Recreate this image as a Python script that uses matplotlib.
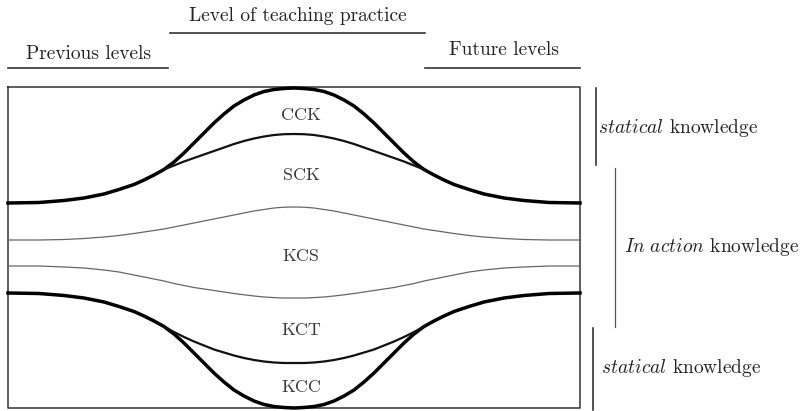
import matplotlib.pyplot as plt

plt.rcParams['font.family'] = ['cmr10', 'DejaVu Serif']
plt.rcParams['mathtext.fontset'] = 'cm'
plt.rcParams['axes.formatter.use_mathtext'] = True

# curve samples (pixel space, y grows downward)
x_pts = [8, 39, 64, 84, 104, 119, 134, 144, 154, 164, 174, 184, 194, 204, 214,
         224, 234, 244, 254, 264, 274, 284, 294, 304, 314, 324, 334, 344, 354,
         364, 374, 384, 394, 404, 414, 424, 434, 444, 454, 469, 484, 504, 524,
         549, 580]
cck_top = [203, 202.5, 200.5, 198, 194, 189.5, 184.5, 180, 175, 169.5, 162,
           153, 143, 133, 123, 114, 106, 100, 95, 91.5, 89.5, 88.5, 88,
           88.5, 89.5, 91.5, 95, 100, 106, 114, 123, 133, 143, 153, 162,
           169.5, 175, 180, 184.5, 189.5, 194, 198, 200.5, 202.5, 203]
kcs_upper = [240, 240, 239.5, 238.5, 237, 235.5, 233.5, 232, 230.5, 229, 227,
             225, 223, 221, 219, 217, 215, 213, 211, 209.5, 208, 207.2, 207,
             207.2, 208, 209.5, 211, 213, 215, 217, 219, 221, 223, 225, 227,
             229, 230.5, 232, 233.5, 235.5, 237, 238.5, 239.5, 240, 240]
kcs_lower = [266, 266, 267, 268, 270, 272, 275, 277, 279, 281, 283.5, 285.5,
             287.5, 289, 290.5, 292, 293.5, 294.8, 296, 297, 297.6, 298, 298,
             298, 297.6, 297, 296, 294.8, 293.5, 292, 290.5, 289, 287.5, 285.5,
             283.5, 281, 279, 277, 275, 272, 270, 268, 267, 266, 266]
kcc_bottom = [293, 293.5, 295.5, 298, 302, 306.5, 311.5, 316, 321, 326.5, 334,
              343, 353, 363, 373, 382, 390, 396, 401, 404.5, 406.5, 407.5, 408,
              407.5, 406.5, 404.5, 401, 396, 390, 382, 373, 363, 353, 343, 334,
              326.5, 321, 316, 311.5, 306.5, 302, 298, 295.5, 293.5, 293]

inner_x = [164, 174, 184, 194, 204, 214, 224, 234, 244, 254, 264, 274, 284, 294,
           304, 314, 324, 334, 344, 354, 364, 374, 384, 394, 404, 414, 424]
sck_line = [169.5, 165.5, 161.5, 158, 154.5, 151, 147.5, 144, 141, 138.5, 136.5,
            135, 134.2, 134, 134.2, 135, 136.5, 138.5, 141, 144, 147.5, 151,
            154.5, 158, 161.5, 165.5, 169.5]
kct_line = [326.5, 332, 337, 341.5, 345.5, 349.5, 352.5, 355.5, 358, 360, 361.5,
            362.5, 363, 363, 363, 362.5, 361.5, 360, 358, 355.5, 352.5, 349.5,
            345.5, 341.5, 337, 332, 326.5]

region_labels = ['CCK', 'SCK', 'KCS', 'KCT', 'KCC']
region_y = [115, 175, 256, 330, 387]

headers = ['Previous levels', 'Level of teaching practice', 'Future levels']
side_labels = [r'$\mathit{statical}$ knowledge', r'$\mathit{In\ action}$ knowledge',
               r'$\mathit{statical}$ knowledge']

fig = plt.figure(figsize=(8, 4.11), dpi=100)
ax = fig.add_axes([0, 0, 1, 1])
ax.set_xlim(0, 800)
ax.set_ylim(411, 0)
ax.axis('off')

txt = '#222222'

# frame
ax.plot([8, 580, 580, 8, 8], [87, 87, 408, 408, 87], color='#333333', lw=1.1)

# curves
ax.plot(x_pts, cck_top, color='black', lw=2.5, solid_joinstyle='round')
ax.plot(x_pts, kcc_bottom, color='black', lw=2.5, solid_joinstyle='round')
ax.plot(inner_x, sck_line, color='#111111', lw=1.6, solid_joinstyle='round')
ax.plot(inner_x, kct_line, color='#111111', lw=1.6, solid_joinstyle='round')
ax.plot(x_pts, kcs_upper, color='#666666', lw=0.9)
ax.plot(x_pts, kcs_lower, color='#666666', lw=0.9)

for lab, y in zip(region_labels, region_y):
    ax.text(301, y, lab, ha='center', va='center', fontsize=13, color='#3a3a3a')

# header labels with underlines
ax.text(89, 54, headers[0], ha='center', va='center', fontsize=14, color=txt)
ax.plot([8, 168], [68, 68], color='#333333', lw=1.2)
ax.text(298, 16, headers[1], ha='center', va='center', fontsize=14, color=txt)
ax.plot([170, 425], [33, 33], color='#333333', lw=1.2)
ax.text(504, 50, headers[2], ha='center', va='center', fontsize=14, color=txt)
ax.plot([425, 580], [68, 68], color='#333333', lw=1.2)

# side brackets
ax.plot([596, 596], [88, 165], color='#222222', lw=1.1)
ax.text(598, 128, side_labels[0], ha='left', va='center', fontsize=14, color=txt)
ax.plot([615, 615], [168, 327], color='#555555', lw=0.9)
ax.text(624, 247, side_labels[1], ha='left', va='center', fontsize=14, color=txt)
ax.plot([593, 593], [328, 410], color='#222222', lw=1.1)
ax.text(601, 368, side_labels[2], ha='left', va='center', fontsize=14, color=txt)

fig.savefig('out.png', dpi=100)
